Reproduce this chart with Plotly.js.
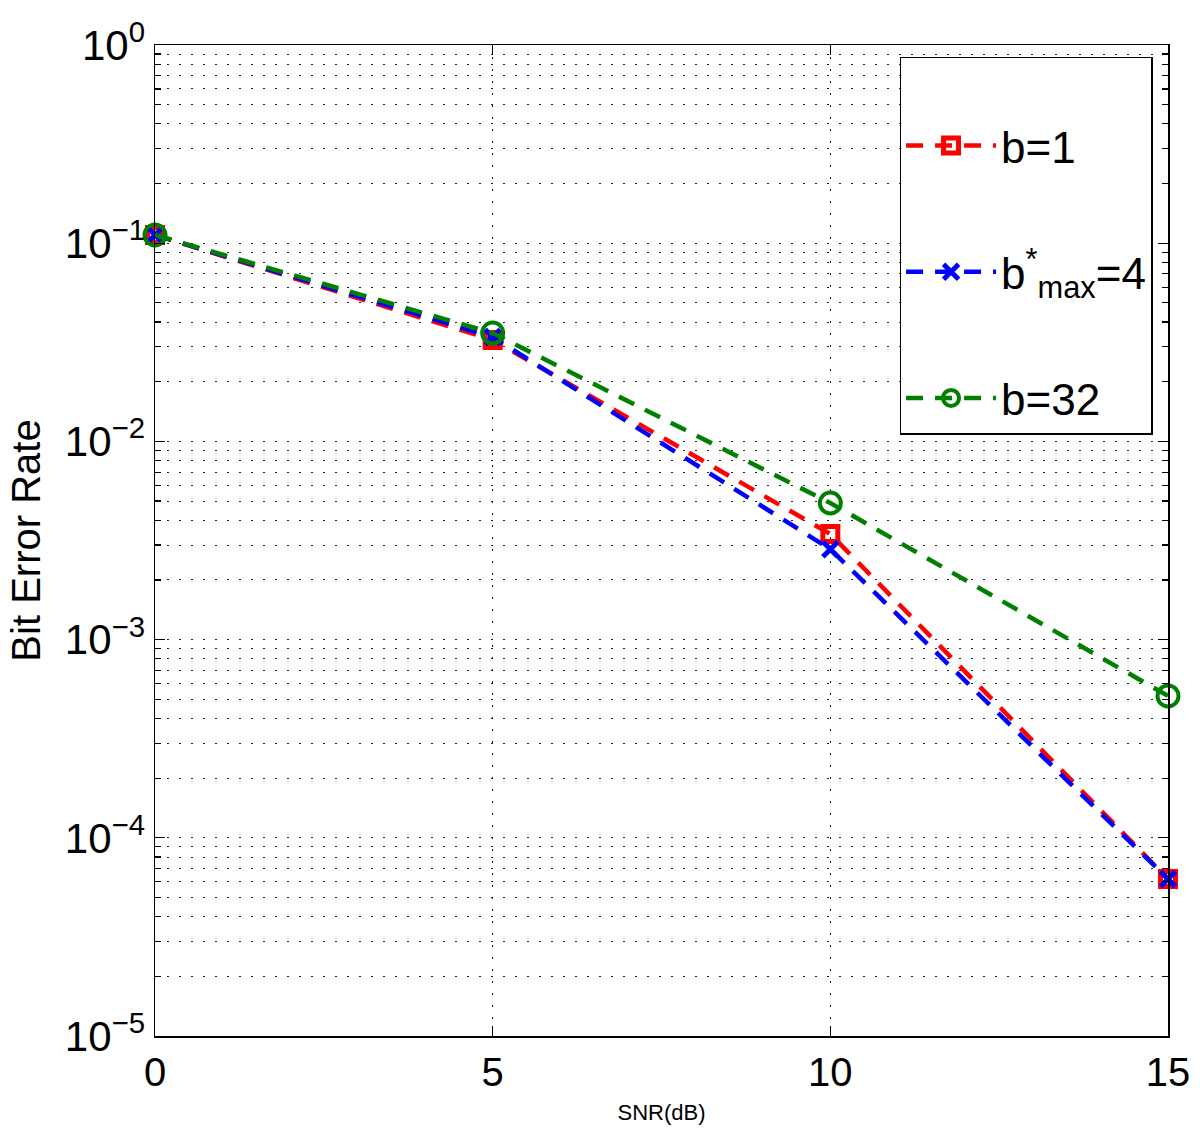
<!DOCTYPE html>
<html>
<head>
<meta charset="utf-8">
<script src="https://cdn.plot.ly/plotly-3.0.1.min.js"></script>
<style>html,body{margin:0;padding:0;background:#fff;}#chart{width:1200px;height:1129px;}</style>
</head>
<body>
<div id="chart"></div>
<script>
// Data
const snr = [0, 5, 10, 15];
const berB1 = [0.11, 0.0325, 0.00341, 6.2e-5];
const berBmax = [0.11, 0.0336, 0.00286, 6.2e-5];
const berB32 = [0.11, 0.0352, 0.00489, 5.2e-4];

const seriesNames = ['b=1', 'b<sup>*</sup><sub>max</sub>=4', 'b=32'];
const xTickVals = [0, 5, 10, 15];
const xTickText = ['0', '5', '10', '15'];
const yDecades = [-5, -4, -3, -2, -1, 0];
const yTickText = ['10<sup>−5</sup>', '10<sup>−4</sup>', '10<sup>−3</sup>', '10<sup>−2</sup>', '10<sup>−1</sup>', '10<sup>0</sup>'];

const yTickVals = yDecades.map(d => Math.pow(10, d));
const yMinorVals = [];
for (let d = -5; d < 0; d++) {
  for (let m = 2; m <= 9; m++) yMinorVals.push(m * Math.pow(10, d));
}

const dashStyle = '17px,12px';
const traces = [
  {
    x: snr, y: berB1, name: seriesNames[0], mode: 'lines+markers', legendgroup: 'a', cliponaxis: false,
    line: {color: '#ff0000', width: 4.5, dash: dashStyle},
    marker: {symbol: 'square-open', size: 15, color: '#ff0000', line: {width: 5, color: '#ff0000'}}
  },
  {
    x: snr, y: berBmax, name: seriesNames[1], mode: 'lines+markers', legendgroup: 'b', cliponaxis: false,
    line: {color: '#0000ff', width: 4.5, dash: dashStyle},
    marker: {symbol: 'x-thin-open', size: 15, color: '#0000ff', line: {width: 5, color: '#0000ff'}}
  },
  {
    x: snr, y: berB32, name: seriesNames[2], mode: 'lines+markers', legendgroup: 'c', cliponaxis: false,
    line: {color: '#008000', width: 4.5, dash: dashStyle},
    marker: {symbol: 'circle-open', size: 21, color: '#008000', line: {width: 4, color: '#008000'}}
  }
];

const gridDash = '2px,10px';
const layout = {
  width: 1200, height: 1129,
  margin: {l: 155, r: 32, t: 45, b: 93},
  paper_bgcolor: '#ffffff', plot_bgcolor: '#ffffff',
  font: {family: '"Liberation Sans", Arial, sans-serif', color: '#000'},
  showlegend: true,
  legend: {
    x: 0.735, y: 0.988, xanchor: 'left', yanchor: 'top',
    bgcolor: '#ffffff', bordercolor: '#000', borderwidth: 1.5,
    font: {size: 44, color: '#000'},
    title: {text: ' ', font: {size: 40}},
    tracegroupgap: 66, itemwidth: 90
  },
  xaxis: {
    range: [0, 15], tickmode: 'array', tickvals: xTickVals, ticktext: xTickText,
    tickfont: {size: 40}, ticks: 'inside', ticklen: 10, tickcolor: '#000', tickwidth: 1.2,
    showline: true, linecolor: '#000', linewidth: 1.5, mirror: 'ticks',
    showgrid: true, gridcolor: '#222', gridwidth: 1, griddash: gridDash,
    zeroline: false,
    title: {text: 'SNR(dB)', font: {size: 22}, standoff: 12}
  },
  yaxis: {
    type: 'log', range: [-5, 0], tickmode: 'array', tickvals: yTickVals, ticktext: yTickText,
    tickfont: {size: 42}, ticks: 'inside', ticklen: 10, tickcolor: '#000', tickwidth: 1.2,
    showline: true, linecolor: '#000', linewidth: 1.5, mirror: 'ticks',
    showgrid: true, gridcolor: '#222', gridwidth: 1, griddash: gridDash,
    zeroline: false,
    minor: {tickmode: 'array', tickvals: yMinorVals, ticks: 'inside', ticklen: 6, tickcolor: '#000',
            showgrid: true, gridcolor: '#222', gridwidth: 1, griddash: gridDash},
    title: {text: 'Bit Error Rate', font: {size: 40}, standoff: 12}
  }
};

Plotly.newPlot('chart', traces, layout, {displayModeBar: false, staticPlot: true});
</script>
</body>
</html>
